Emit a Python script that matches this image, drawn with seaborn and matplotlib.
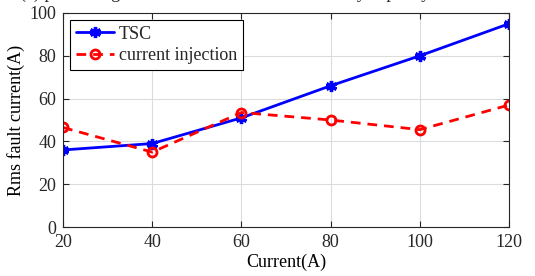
import matplotlib
matplotlib.use("Agg")
import matplotlib.pyplot as plt
import seaborn as sns
import pandas as pd

currents = [20, 40, 60, 80, 100, 120]
tsc = [36, 39, 51, 66, 80, 95]
injection = [46.5, 35, 53.5, 50, 45.5, 57]
xticks = [20, 40, 60, 80, 100, 120]
yticks = [0, 20, 40, 60, 80, 100]

sns.set_theme(style="white")
plt.rcParams['font.family'] = ['Liberation Serif', 'DejaVu Serif']
plt.rcParams['mathtext.fontset'] = 'stix'

fig = plt.figure(figsize=(5.35, 2.76), dpi=100)
ax = fig.add_axes([0.1178, 0.1775, 0.8336, 0.7754])

sns.lineplot(x=currents, y=tsc, ax=ax, color='#0000ff', linewidth=2,
             marker=(6, 2, 0), markersize=8, markeredgewidth=2.4,
             markeredgecolor='#0000ff', label='TSC')
sns.lineplot(x=currents, y=injection, ax=ax, color='#ff0000', linewidth=2,
             linestyle=(0, (3.5, 2.5)), marker='o', markersize=6.5,
             markerfacecolor='none', markeredgewidth=2, markeredgecolor='#ff0000',
             label='current injection')

ax.set_xlim(20, 120)
ax.set_ylim(0, 100)
ax.set_xticks(xticks)
ax.set_yticks(yticks)
ax.grid(True, color='#dcdcdc', linewidth=0.8)
ax.set_axisbelow(True)
for s in ax.spines.values():
    s.set_color('#262626')
    s.set_linewidth(0.8)
    s.set_visible(True)
ax.tick_params(direction='in', length=4, width=0.8, colors='#262626',
               labelsize=13, top=True, right=True, bottom=True, left=True,
               labeltop=False, labelright=False)
ax.tick_params(axis='x', pad=5)
ax.tick_params(axis='y', pad=5)
ax.set_xlabel('Current(A)', fontsize=13, color='#000000', labelpad=2)
ax.set_ylabel('Rms fault current(A)', fontsize=13, color='#000000', labelpad=3)

leg = ax.legend(loc='upper left', fontsize=13, frameon=True, fancybox=False,
                edgecolor='#000000', framealpha=1, borderpad=0.3,
                handlelength=2.1, handletextpad=0.3, labelspacing=0.25,
                borderaxespad=0.4)
leg.get_frame().set_linewidth(0.8)

fig.text(0.42, 0.993, '(c) phase-to-ground fault current versus fault by capacity',
         ha='center', va='bottom', fontsize=13)

fig.savefig('out.png', dpi=100)
